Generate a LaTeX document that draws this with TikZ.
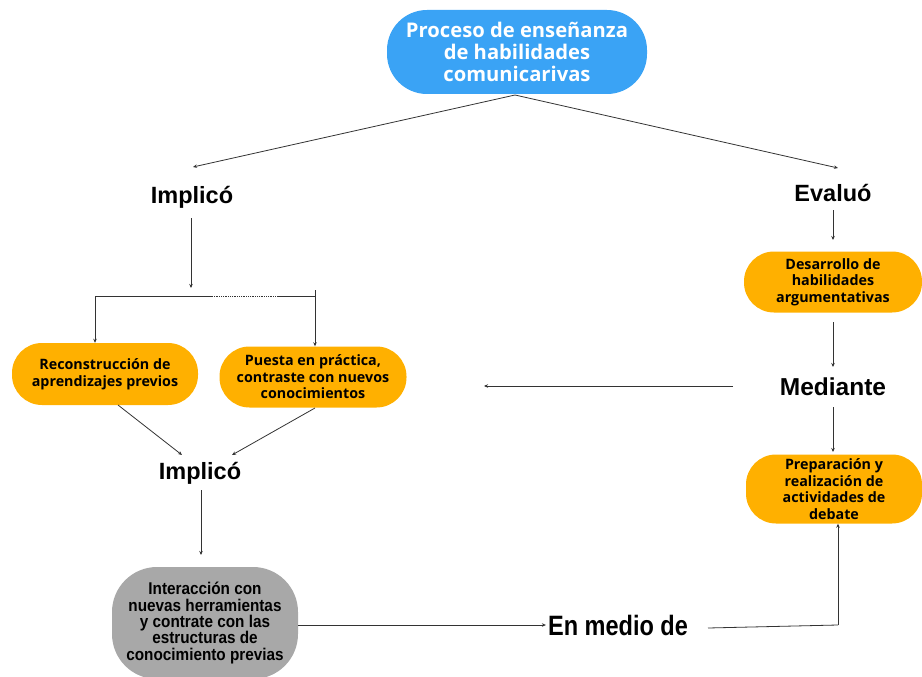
\documentclass[tikz,border=0pt]{standalone}
\usepackage{fontspec}
\setmainfont{Liberation Sans}
\newfontfamily\narrowfont[FakeStretch=0.9]{Liberation Sans}
\newfontfamily\medfont[FakeStretch=0.84]{Liberation Sans}
\newfontfamily\boxfont{Open Sans}
\usetikzlibrary{arrows.meta,calc}
\definecolor{topblue}{HTML}{3AA3F5}
\definecolor{orangebox}{HTML}{FFB000}
\definecolor{graybox}{HTML}{A8A8A8}
\definecolor{linegray}{HTML}{333333}
\begin{document}
\begin{tikzpicture}[x=1pt,y=-1pt,
  conn/.style={draw=linegray, line width=0.8pt, -{Stealth[length=4pt,width=3.5pt]}},
  plain/.style={draw=linegray, line width=0.8pt},
  lbl/.style={font=\fontsize{23.5}{26}\selectfont\bfseries, inner sep=2pt},
  obox/.style={fill=orangebox, rounded corners=30pt, align=center,
    font=\boxfont\fontsize{14.3}{16.5}\selectfont\bfseries, inner sep=0pt},
  ]
\useasboundingbox (0,0) rectangle (922,677);
% nodes
\node[fill=topblue, rounded corners=40pt, minimum width=260pt, minimum height=84pt,
  align=center, text=white, font=\boxfont\fontsize{20.2}{22}\selectfont\bfseries, inner sep=0pt]
  (top) at (517,52) {Proceso de enseñanza\\de habilidades\\comunicarivas};
\node[lbl] (imp1) at (192,197) {Implicó};
\node[lbl] (eval) at (833,193) {Evaluó};
\node[obox, minimum width=186pt, minimum height=62pt] (rec) at (105,374)
  {Reconstrucción de\\aprendizajes previos};
\node[obox, minimum width=187pt, minimum height=61pt] (pue) at (313,377)
  {Puesta en práctica,\\contraste con nuevos\\conocimientos};
\node[lbl] (imp2) at (200,473) {Implicó};
\node[fill=graybox, rounded corners=45pt, minimum width=186pt, minimum height=112pt,
  align=center, inner sep=0pt, font=\narrowfont\fontsize{17}{16.3}\selectfont\bfseries]
  (int) at (205,623) {Interacción con\\nuevas herramientas\\y contrate con las\\estructuras de\\conocimiento previas};
\node[lbl, font=\medfont\fontsize{28}{30}\selectfont\bfseries] (med) at (618,625) {En medio de};
\node[obox, minimum width=178pt, minimum height=61pt] (des) at (833,282)
  {Desarrollo de\\habilidades\\argumentativas};
\node[lbl, font=\fontsize{24.5}{26}\selectfont\bfseries] (mdt) at (833,387) {Mediante};
\node[obox, minimum width=176pt, minimum height=69pt] (pre) at (834,489)
  {Preparación y\\realización de\\actividades de\\debate};
% helper coordinates
\coordinate (tb) at (515,95);
\coordinate (t1) at (193,167);
\coordinate (t2) at (838,168);
\coordinate (jn) at (191,288);
\coordinate (bl) at (95,296);
\coordinate (br) at (315,296);
\coordinate (brt) at (315,290);
\coordinate (d1) at (212,296);
\coordinate (d2) at (278,296);
\coordinate (mend) at (484,386);
\coordinate (mstart) at (733,386);
\coordinate (corner) at (838,625);
\coordinate (vx) at (833,0);
\coordinate (ix) at (201,0);
% connectors
\draw[conn] (tb) -- (t1);
\draw[conn] (tb) -- (t2);
\draw[conn] (jn |- 0,218) -- (jn);
\draw[plain] (bl) -- (d1);
\draw[plain, densely dotted] (d1) -- (d2);
\draw[plain] (d2) -- (br);
\draw[conn] (bl) -- (rec.north -| bl);
\draw[conn] (brt) -- (pue.north -| brt);
\draw[conn] (118,405) -- (182,455);
\draw[conn] (315,408) -- (232,455);
\draw[conn] (ix |- 0,490) -- (ix |- 0,555);
\draw[conn] (int.east |- med) -- (med.west);
\draw[plain] (708,628) -- (corner);
\draw[conn] (corner) -- (pre.south -| corner);
\draw[conn] (vx |- 0,210) -- (vx |- 0,240);
\draw[conn] (vx |- 0,322) -- (vx |- 0,367);
\draw[conn] (mstart) -- (mend);
\draw[conn] (vx |- 0,407) -- (vx |- 0,452);
\end{tikzpicture}
\end{document}
